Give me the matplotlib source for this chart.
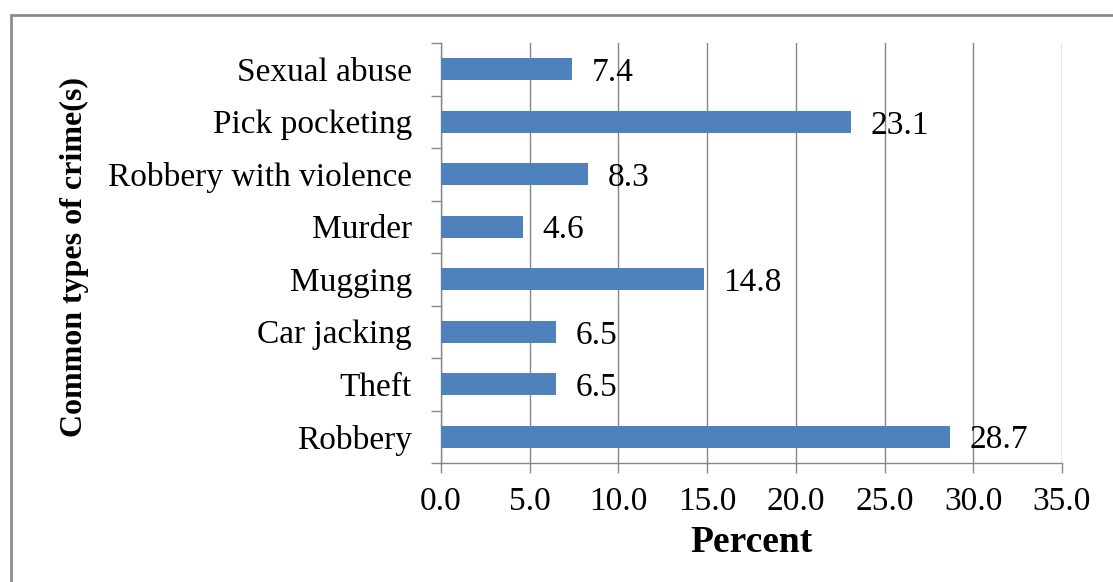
import matplotlib.pyplot as plt
from matplotlib.patches import Rectangle

# crime categories, bottom bar first
crimes = [
    "Robbery",
    "Theft",
    "Car jacking",
    "Mugging",
    "Murder",
    "Robbery with violence",
    "Pick pocketing",
    "Sexual abuse",
]
percent = [28.7, 6.5, 6.5, 14.8, 4.6, 8.3, 23.1, 7.4]
x_ticks = [0, 5, 10, 15, 20, 25, 30, 35]

plt.rcParams["font.family"] = ["Liberation Serif", "DejaVu Serif"]

BAR_COLOR = "#4F81BD"
GRID_COLOR = "#868686"
FS = 24

fig = plt.figure(figsize=(11.13, 5.82), dpi=100)
ax = fig.add_axes([441 / 1113, 1 - 463 / 582, 621 / 1113, 420 / 582])

y_pos = list(range(len(crimes)))
ax.barh(y_pos, percent, height=0.42, color=BAR_COLOR, zorder=3)

for y, v in zip(y_pos, percent):
    ax.annotate(f"{v:.1f}", xy=(v, y), xytext=(14, 0), textcoords="offset points",
                va="center_baseline", ha="left", fontsize=FS, zorder=4)

ax.set_xlim(0, 35)
ax.set_ylim(-0.5, len(crimes) - 0.5)
ax.set_xticks(x_ticks)
ax.set_xticklabels([f"{t:.1f}" for t in x_ticks], fontsize=FS)
ax.set_yticks(y_pos)
ax.set_yticklabels(crimes, fontsize=FS)
ax.set_yticks([i - 0.5 for i in range(len(crimes) + 1)], minor=True)

ax.tick_params(axis="y", which="major", length=0, pad=21)
ax.tick_params(axis="y", which="minor", length=7.5, width=1, color=GRID_COLOR, direction="out")
ax.tick_params(axis="x", which="major", length=7, width=1, color=GRID_COLOR, direction="out", pad=10)

ax.grid(axis="x", color=GRID_COLOR, linewidth=1, zorder=0)
for side in ("top", "right"):
    ax.spines[side].set_visible(False)
for side in ("left", "bottom"):
    ax.spines[side].set_color(GRID_COLOR)
    ax.spines[side].set_linewidth(1)

ax.set_xlabel("Percent", fontsize=27, fontweight="bold", labelpad=6)
ax.set_ylabel("Common types of crime(s)", fontsize=23, fontweight="bold")
ax.yaxis.set_label_coords(-352 / 621, 0.49)

# outer frame around the chart area
fig.patches.append(Rectangle((11 / 1113, -0.1), 1.2, 1.1 - 15 / 582,
                             transform=fig.transFigure, fill=False,
                             edgecolor="#8c8c8c", linewidth=2))

fig.savefig("out.png", dpi=100)
